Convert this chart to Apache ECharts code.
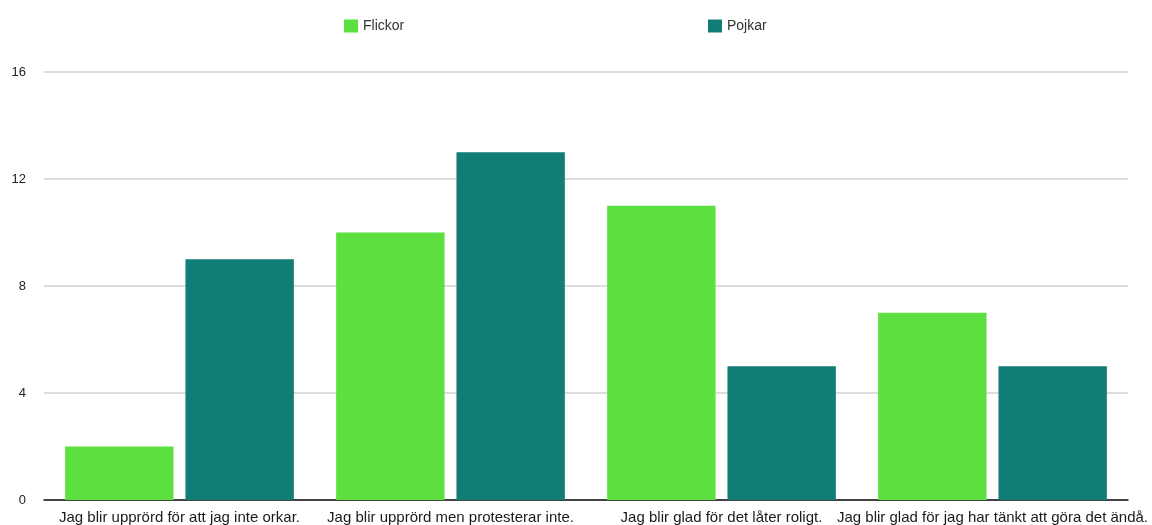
<!DOCTYPE html>
<html><head><meta charset="utf-8">
<script src="https://cdn.jsdelivr.net/npm/echarts@6/dist/echarts.min.js"></script>
<style>html,body{margin:0;padding:0;background:#fff}#c{width:1152px;height:525px}</style>
</head><body><div id="c"></div>
<script>
const categories = ["Jag blir upprörd för att jag inte orkar.", "Jag blir upprörd men protesterar inte.", "Jag blir glad för det låter roligt.", "Jag blir glad för jag har tänkt att göra det ändå."];
const flickor = [2, 10, 11, 7];
const pojkar = [9, 13, 5, 5];
const seriesNames = ["Flickor", "Pojkar"];

const chart = echarts.init(document.getElementById('c'), null, {renderer: 'canvas'});
const font = "'Liberation Sans', Arial, sans-serif";
chart.setOption({
  animation: false,
  legend: [
    {data: [seriesNames[0]], left: 344, top: 19, padding: 0, itemWidth: 14, itemHeight: 13, icon: 'rect',
     textStyle: {fontFamily: font, fontSize: 14, color: '#333'}},
    {data: [seriesNames[1]], left: 708, top: 19, padding: 0, itemWidth: 14, itemHeight: 13, icon: 'rect',
     textStyle: {fontFamily: font, fontSize: 14, color: '#333'}}
  ],
  grid: {left: 44, right: 24, top: 72, bottom: 25, containLabel: false},
  xAxis: {
    type: 'category', data: categories,
    axisLine: {lineStyle: {color: '#111', width: 1.5}},
    axisTick: {show: false},
    axisLabel: {interval: 0, fontFamily: font, fontSize: 15, color: '#1a1a1a', margin: 10}
  },
  yAxis: {
    type: 'value', min: 0, max: 16, interval: 4,
    axisLine: {show: false}, axisTick: {show: false},
    axisLabel: {fontFamily: font, fontSize: 13, color: '#222', margin: 18},
    splitLine: {lineStyle: {color: '#d0d0d0', width: 1.5}}
  },
  series: [
    {name: seriesNames[0], type: 'bar', data: flickor, barWidth: '40%', barGap: '11%', itemStyle: {color: '#5DE03F'}},
    {name: seriesNames[1], type: 'bar', data: pojkar, barWidth: '40%', barGap: '11%', itemStyle: {color: '#117D74'}}
  ]
});
</script></body></html>
